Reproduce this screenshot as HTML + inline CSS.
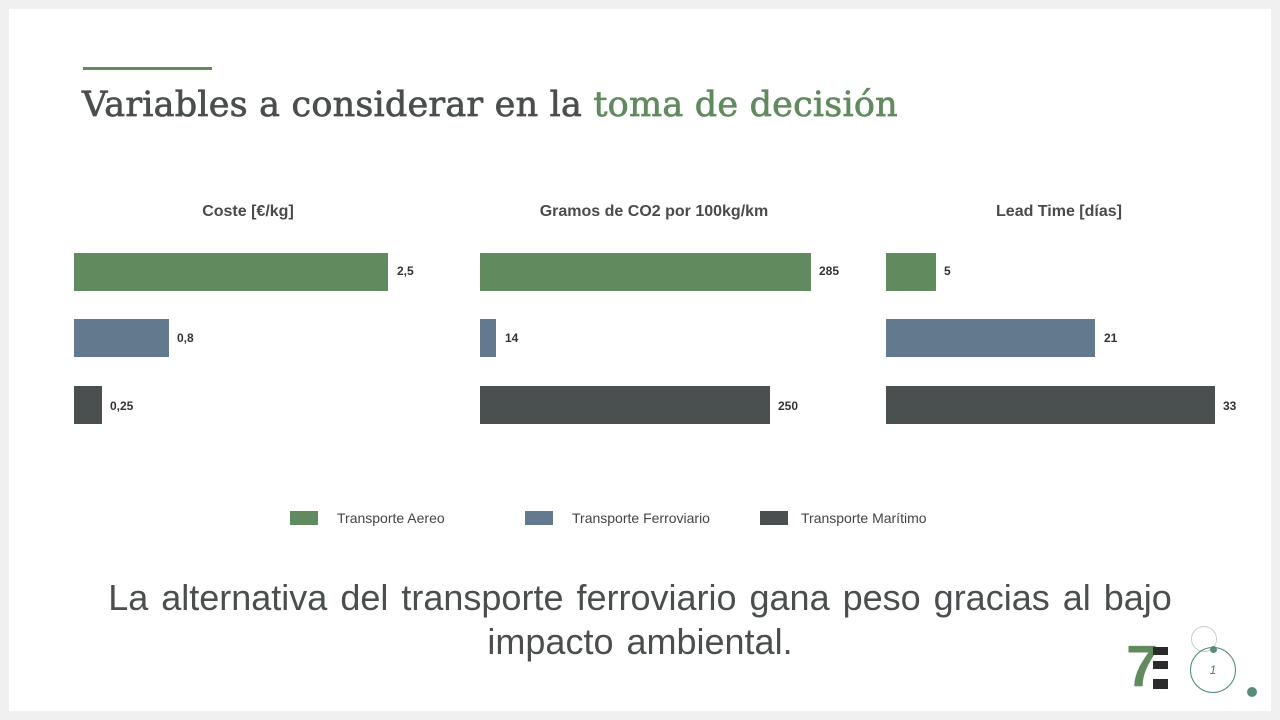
<!DOCTYPE html>
<html><head><style>
body{margin:0;width:1280px;height:720px;background:#f0f0f0;position:relative;overflow:hidden;font-family:"Liberation Sans",sans-serif}
.s{position:absolute;left:9px;top:9px;width:1262px;height:702px;background:#fff}
.a{position:absolute}
.b{position:absolute;height:38px}
.g{background:#618b5e}.u{background:#62798e}.d{background:#4a5050}
.t{position:absolute;font-weight:bold;font-size:16px;color:#4a4a4a;width:300px;text-align:center;top:203px}
.v{position:absolute;font-weight:bold;font-size:12px;color:#333}
.l{position:absolute;font-size:14px;color:#444;top:510px}
.k{position:absolute;width:28px;height:14px;top:511px}
</style></head><body>
<div class="s"></div>
<div class="a" style="left:83px;top:67px;width:129px;height:3px;background:#618b5e"></div>
<div class="a" style="left:82px;top:85px;font-family:'DejaVu Serif','Liberation Serif',serif;font-size:35px;color:#4a4e4e;white-space:nowrap;letter-spacing:0.2px;-webkit-text-stroke:0.7px currentColor">Variables a considerar en la <span style="color:#618b5e">toma de decisión</span></div>
<div class="t" style="left:98px">Coste [€/kg]</div>
<div class="t" style="left:504px">Gramos de CO2 por 100kg/km</div>
<div class="t" style="left:909px">Lead Time [días]</div>
<div class="b g" style="left:74px;top:253px;width:314px"></div>
<div class="b u" style="left:74px;top:319px;width:95px"></div>
<div class="b d" style="left:74px;top:386px;width:28px"></div>
<div class="v" style="left:397px;top:264px">2,5</div>
<div class="v" style="left:177px;top:331px">0,8</div>
<div class="v" style="left:110px;top:399px">0,25</div>
<div class="b g" style="left:480px;top:253px;width:331px"></div>
<div class="b u" style="left:480px;top:319px;width:16px"></div>
<div class="b d" style="left:480px;top:386px;width:290px"></div>
<div class="v" style="left:819px;top:264px">285</div>
<div class="v" style="left:505px;top:331px">14</div>
<div class="v" style="left:778px;top:399px">250</div>
<div class="b g" style="left:886px;top:253px;width:50px"></div>
<div class="b u" style="left:886px;top:319px;width:209px"></div>
<div class="b d" style="left:886px;top:386px;width:329px"></div>
<div class="v" style="left:944px;top:264px">5</div>
<div class="v" style="left:1104px;top:331px">21</div>
<div class="v" style="left:1223px;top:399px">33</div>
<div class="k g" style="left:290px"></div><div class="l" style="left:337px">Transporte Aereo</div>
<div class="k u" style="left:525px"></div><div class="l" style="left:572px">Transporte Ferroviario</div>
<div class="k d" style="left:760px"></div><div class="l" style="left:801px">Transporte Marítimo</div>
<div class="a" style="left:80px;top:576px;width:1120px;text-align:center;font-size:36px;line-height:44px;color:#4a4e4e;word-spacing:3px">La alternativa del transporte ferroviario gana peso gracias al bajo<br>impacto ambiental.</div>
<div class="a" style="left:1126px;top:644px;font-family:'Liberation Sans',sans-serif;font-weight:bold;font-size:58px;line-height:46px;color:#618b5e">7</div>
<div class="a" style="left:1153px;top:647px;width:15px;height:42px;background:linear-gradient(#2b2b2b 0 8px,transparent 8px 14px,#2b2b2b 14px 22px,transparent 22px 32px,#2b2b2b 32px)"></div>
<div class="a" style="left:1191px;top:626px;width:24px;height:24px;border:1px solid #ccc;border-radius:50%"></div>
<div class="a" style="left:1190px;top:647px;width:44px;height:44px;border:1px solid #4f8a7a;border-radius:50%;text-align:center;line-height:44px;font-size:12px;font-style:italic;color:#4f7a7a">1</div>
<div class="a" style="left:1210px;top:646px;width:7px;height:7px;background:#5a8a7a;border-radius:50%"></div>
<div class="a" style="left:1247px;top:687px;width:10px;height:10px;background:#5a8a7a;border-radius:50%"></div>
</body></html>
